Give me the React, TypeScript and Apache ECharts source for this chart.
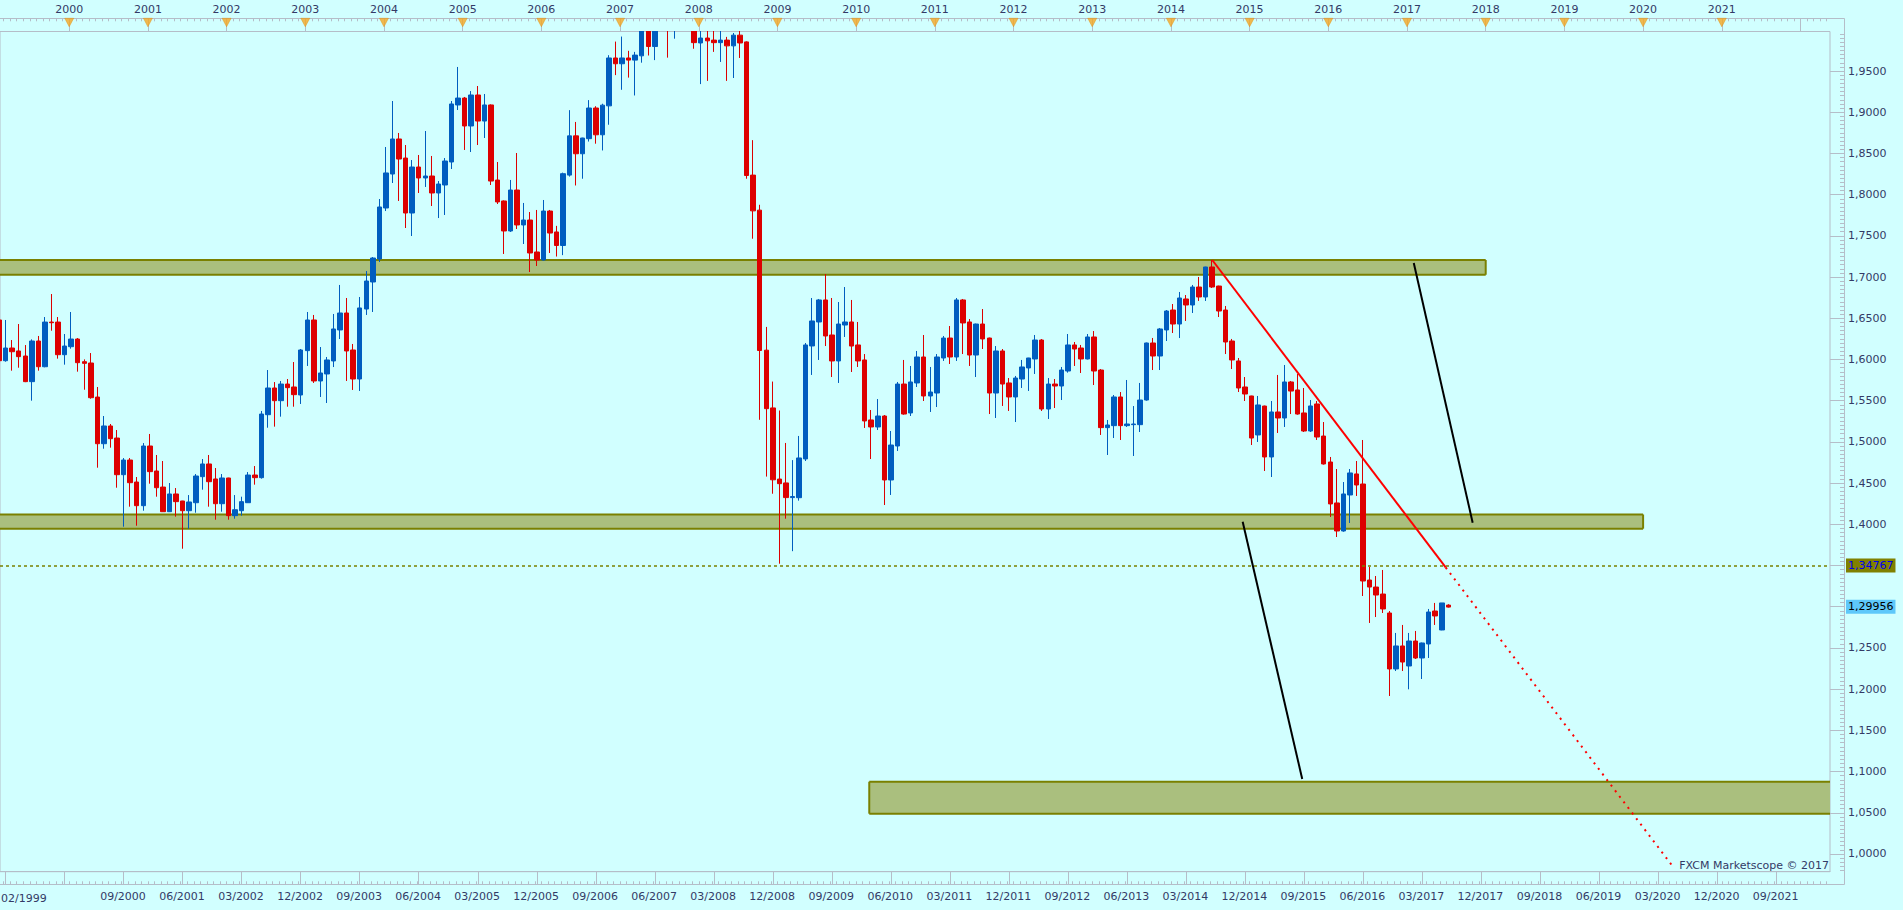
import React, { useEffect, useRef } from 'react';
import * as echarts from 'echarts';

// GBP/USD monthly candles, first candle February 1999, last July 2017
const firstMonth = '1999-02';

const opens = [
  1.6479, 1.5985, 1.6139, 1.6103, 1.6042, 1.5731, 1.6224, 1.5912, 1.6454, 1.6454, 1.6058,
  1.6155, 1.6248, 1.5973, 1.5957, 1.5544, 1.4978, 1.5193, 1.5047, 1.4602, 1.4780, 1.4513, 1.4226,
  1.4950, 1.4647, 1.4452, 1.4153, 1.4368, 1.4283, 1.4165, 1.4262, 1.4578, 1.4732, 1.4550, 1.4250,
  1.4562, 1.4105, 1.4165, 1.4262, 1.4598, 1.4566, 1.5330, 1.5654, 1.5500, 1.5702, 1.5666, 1.5569,
  1.6107, 1.6479, 1.5739, 1.5824, 1.5982, 1.6358, 1.6564, 1.6115, 1.5763, 1.6612, 1.6940, 1.7219,
  1.7838, 1.8250, 1.8675, 1.8444, 1.7777, 1.8335, 1.8202, 1.8226, 1.8020, 1.8117, 1.8396, 1.9088,
  1.9172, 1.8833, 1.9209, 1.8893, 1.9088, 1.8177, 1.7923, 1.7559, 1.8056, 1.7632, 1.7692, 1.7304,
  1.7207, 1.7801, 1.7547, 1.7383, 1.8237, 1.8713, 1.8496, 1.8679, 1.9051, 1.8726, 1.9077, 1.9658,
  1.9588, 1.9658, 1.9632, 1.9684, 1.9990, 1.9797, 2.0070, 2.0330, 2.0130, 2.0440, 2.0790, 2.0570,
  1.9840, 1.9900, 1.9875, 1.9844, 1.9875, 1.9805, 1.9935, 1.9853, 1.8237, 1.7812, 1.6113, 1.5412,
  1.4549, 1.4502, 1.4324, 1.4323, 1.4793, 1.6164, 1.6455, 1.6722, 1.6297, 1.5982, 1.6418, 1.6455,
  1.6176, 1.5994, 1.5266, 1.5181, 1.5314, 1.4538, 1.4950, 1.5702, 1.5351, 1.5715, 1.6030, 1.5557,
  1.5593, 1.6018, 1.6260, 1.6030, 1.6722, 1.6455, 1.6054, 1.6430, 1.6260, 1.5593, 1.6103, 1.5715,
  1.5545, 1.5763, 1.5897, 1.6006, 1.6236, 1.5399, 1.5702, 1.5678, 1.5860, 1.6176, 1.6139, 1.6006,
  1.6273, 1.5872, 1.5173, 1.5197, 1.5545, 1.5197, 1.5209, 1.5209, 1.5508, 1.6200, 1.6042, 1.6358,
  1.6600, 1.6430, 1.6734, 1.6661, 1.6879, 1.6758, 1.7122, 1.6891, 1.6600, 1.6224, 1.5982, 1.5666,
  1.5557, 1.5084, 1.5435, 1.4817, 1.5363, 1.5290, 1.5727, 1.5630, 1.5351, 1.5132, 1.5460, 1.5071,
  1.4756, 1.4259, 1.3919, 1.4356, 1.4611, 1.4489, 1.3324, 1.3239, 1.3154, 1.2924, 1.2245, 1.2524,
  1.2281, 1.2584, 1.2378, 1.2548, 1.2948, 1.2718, 1.3020,
];

const highs = [
  1.6520, 1.6479, 1.6236, 1.6430, 1.6175, 1.6244, 1.6285, 1.6515, 1.6794, 1.6515, 1.6309,
  1.6576, 1.6260, 1.6001, 1.6078, 1.5666, 1.5314, 1.5217, 1.5144, 1.4804, 1.4804, 1.4574, 1.4986,
  1.5096, 1.4841, 1.4768, 1.4501, 1.4440, 1.4285, 1.4355, 1.4610, 1.4792, 1.4841, 1.4683, 1.4610,
  1.4565, 1.4355, 1.4335, 1.4634, 1.4707, 1.5375, 1.5872, 1.5726, 1.5739, 1.5763, 1.5969, 1.6127,
  1.6576, 1.6540, 1.6151, 1.6030, 1.6552, 1.6904, 1.6746, 1.6188, 1.6758, 1.7073, 1.7243, 1.7947,
  1.8578, 1.9136, 1.8748, 1.8602, 1.8420, 1.8481, 1.8772, 1.8469, 1.8165, 1.8444, 1.9136, 1.9549,
  1.9185, 1.9257, 1.9318, 1.9221, 1.9095, 1.8396, 1.7930, 1.8178, 1.8505, 1.7899, 1.7789, 1.7814,
  1.7935, 1.7814, 1.7621, 1.8267, 1.9025, 1.8882, 1.8690, 1.9147, 1.9073, 1.9103, 1.9692, 1.9857,
  1.9918, 1.9745, 1.9732, 2.0133, 2.0060, 2.0100, 2.0655, 2.0460, 2.0450, 2.0890, 2.1160, 2.0650,
  2.0010, 2.0000, 2.0400, 2.0000, 1.9914, 1.9961, 2.0160, 1.9860, 1.8661, 1.7877, 1.6395, 1.5732,
  1.5381, 1.4987, 1.4779, 1.5072, 1.6200, 1.6746, 1.6734, 1.7037, 1.6746, 1.6697, 1.6879, 1.6722,
  1.6455, 1.6066, 1.5387, 1.5520, 1.5326, 1.5132, 1.5727, 1.5994, 1.5921, 1.6103, 1.6297, 1.5909,
  1.6066, 1.6285, 1.6406, 1.6746, 1.6734, 1.6491, 1.6435, 1.6612, 1.6265, 1.6163, 1.6127, 1.5775,
  1.5800, 1.5994, 1.6020, 1.6297, 1.6248, 1.5775, 1.5763, 1.5909, 1.6309, 1.6212, 1.6176, 1.6309,
  1.6345, 1.5884, 1.5266, 1.5569, 1.5605, 1.5751, 1.5435, 1.5715, 1.6205, 1.6261, 1.6382, 1.6600,
  1.6673, 1.6819, 1.6782, 1.6904, 1.7001, 1.7125, 1.7207, 1.6895, 1.6649, 1.6249, 1.6018, 1.5787,
  1.5560, 1.5557, 1.5440, 1.5496, 1.5812, 1.5933, 1.5739, 1.5824, 1.5654, 1.5508, 1.5496, 1.5241,
  1.4817, 1.4671, 1.4513, 1.4671, 1.4768, 1.5023, 1.3482, 1.3373, 1.3446, 1.2948, 1.2682, 1.2779,
  1.2682, 1.2706, 1.2565, 1.2973, 1.3046, 1.3046, 1.3030,
];

const lows = [
  1.5970, 1.5973, 1.5864, 1.5900, 1.5725, 1.5500, 1.5864, 1.5905, 1.6349, 1.6010, 1.5937,
  1.6131, 1.5852, 1.5633, 1.5524, 1.4687, 1.4917, 1.4930, 1.4444, 1.3971, 1.4214, 1.3983, 1.4165,
  1.4493, 1.4335, 1.4150, 1.4150, 1.4093, 1.3704, 1.3947, 1.4141, 1.4420, 1.4214, 1.4056, 1.4153,
  1.4056, 1.4068, 1.4105, 1.4260, 1.4481, 1.4554, 1.5172, 1.5185, 1.5306, 1.5427, 1.5427, 1.5460,
  1.5921, 1.5715, 1.5545, 1.5472, 1.5908, 1.6248, 1.5739, 1.5630, 1.5618, 1.6540, 1.6576, 1.7183,
  1.7801, 1.8141, 1.7923, 1.7595, 1.7498, 1.8020, 1.8093, 1.7862, 1.7716, 1.7753, 1.8311, 1.9027,
  1.8542, 1.8517, 1.8602, 1.8687, 1.8117, 1.7886, 1.7280, 1.7547, 1.7583, 1.7401, 1.7061, 1.7134,
  1.7200, 1.7292, 1.7249, 1.7266, 1.8219, 1.8111, 1.8193, 1.8644, 1.8618, 1.8536, 1.8848, 1.9450,
  1.9272, 1.9420, 1.9203, 1.9601, 1.9688, 1.9632, 2.0040, 1.9662, 1.9892, 2.0180, 2.0350, 1.9770,
  1.9341, 1.9380, 1.9732, 1.9610, 1.9380, 1.9415, 1.9658, 1.8193, 1.7465, 1.5268, 1.4579, 1.4371,
  1.3522, 1.4068, 1.3674, 1.4287, 1.4768, 1.5812, 1.5994, 1.6163, 1.5787, 1.5715, 1.6273, 1.5848,
  1.5909, 1.5169, 1.4792, 1.5144, 1.4234, 1.4356, 1.4890, 1.5330, 1.5314, 1.5666, 1.5496, 1.5363,
  1.5423, 1.5982, 1.5945, 1.5982, 1.6066, 1.5921, 1.5787, 1.6127, 1.5338, 1.5290, 1.5436, 1.5375,
  1.5241, 1.5654, 1.5618, 1.5824, 1.5375, 1.5278, 1.5411, 1.5508, 1.5840, 1.5921, 1.5836, 1.6000,
  1.5690, 1.5084, 1.4841, 1.5047, 1.5023, 1.5181, 1.4829, 1.5120, 1.5500, 1.5872, 1.5872, 1.6224,
  1.6321, 1.6260, 1.6467, 1.6564, 1.6710, 1.6710, 1.6867, 1.6515, 1.6066, 1.5884, 1.5605, 1.5496,
  1.4962, 1.4999, 1.4647, 1.4574, 1.5108, 1.5181, 1.5338, 1.5330, 1.5120, 1.5120, 1.5023, 1.4725,
  1.4089, 1.3846, 1.3910, 1.4016, 1.4344, 1.3130, 1.2803, 1.2875, 1.2924, 1.1917, 1.2220, 1.2220,
  1.1998, 1.2366, 1.2123, 1.2378, 1.2779, 1.2715, 1.2990,
];

const closes = [
  1.5985, 1.6139, 1.6094, 1.6034, 1.5731, 1.6224, 1.5912, 1.6454, 1.6446, 1.6058, 1.6163,
  1.6248, 1.5961, 1.5953, 1.5536, 1.4978, 1.5193, 1.5039, 1.4602, 1.4780, 1.4505, 1.4226, 1.4950,
  1.4639, 1.4444, 1.4153, 1.4368, 1.4275, 1.4165, 1.4271, 1.4586, 1.4732, 1.4517, 1.4250, 1.4562,
  1.4105, 1.4177, 1.4275, 1.4598, 1.4566, 1.5338, 1.5654, 1.5500, 1.5702, 1.5658, 1.5573, 1.6115,
  1.6479, 1.5739, 1.5836, 1.5994, 1.6370, 1.6564, 1.6103, 1.5763, 1.6625, 1.6952, 1.7231, 1.7850,
  1.8263, 1.8675, 1.8432, 1.7777, 1.8335, 1.8202, 1.8226, 1.8020, 1.8129, 1.8408, 1.9100, 1.9172,
  1.8833, 1.9209, 1.8893, 1.9088, 1.8165, 1.7911, 1.7559, 1.8056, 1.7632, 1.7692, 1.7292, 1.7207,
  1.7801, 1.7534, 1.7383, 1.8254, 1.8713, 1.8496, 1.8687, 1.9051, 1.8726, 1.9086, 1.9658, 1.9588,
  1.9658, 1.9632, 1.9693, 1.9990, 1.9797, 2.0070, 2.0330, 2.0130, 2.0440, 2.0790, 2.0570, 1.9844,
  1.9900, 1.9866, 1.9844, 1.9875, 1.9805, 1.9935, 1.9840, 1.8232, 1.7803, 1.6109, 1.5403, 1.4540,
  1.4493, 1.4324, 1.4337, 1.4805, 1.6176, 1.6467, 1.6722, 1.6285, 1.5982, 1.6430, 1.6455, 1.6163,
  1.5982, 1.5254, 1.5181, 1.5314, 1.4538, 1.4962, 1.5702, 1.5338, 1.5727, 1.6030, 1.5557, 1.5605,
  1.6030, 1.6260, 1.6030, 1.6722, 1.6443, 1.6054, 1.6430, 1.6249, 1.5593, 1.6103, 1.5702, 1.5545,
  1.5775, 1.5909, 1.6018, 1.6236, 1.5399, 1.5702, 1.5678, 1.5872, 1.6176, 1.6127, 1.6006, 1.6273,
  1.5860, 1.5173, 1.5205, 1.5545, 1.5197, 1.5217, 1.5217, 1.5508, 1.6200, 1.6042, 1.6370, 1.6588,
  1.6430, 1.6746, 1.6661, 1.6879, 1.6758, 1.7122, 1.6879, 1.6588, 1.6212, 1.5994, 1.5654, 1.5581,
  1.5047, 1.5448, 1.4817, 1.5363, 1.5290, 1.5727, 1.5617, 1.5338, 1.5132, 1.5436, 1.5059, 1.4732,
  1.4247, 1.3919, 1.4368, 1.4623, 1.4477, 1.3312, 1.3239, 1.3142, 1.2973, 1.2245, 1.2524, 1.2329,
  1.2584, 1.2378, 1.2560, 1.2936, 1.2888, 1.3046, 1.29956,
];

// Price axis labels (1,3000 and 1,3500 are hidden behind the price boxes)
const yTickValues = [1.0, 1.05, 1.1, 1.15, 1.2, 1.25, 1.3, 1.35, 1.4, 1.45, 1.5, 1.55, 1.6, 1.65, 1.7, 1.75, 1.8, 1.85, 1.9, 1.95];
const yLabelValues = [1.0, 1.05, 1.1, 1.15, 1.2, 1.25, 1.4, 1.45, 1.5, 1.55, 1.6, 1.65, 1.7, 1.75, 1.8, 1.85, 1.9, 1.95];

const yearLabels = ['2000', '2001', '2002', '2003', '2004', '2005', '2006', '2007', '2008', '2009', '2010',
  '2011', '2012', '2013', '2014', '2015', '2016', '2017', '2018', '2019', '2020', '2021'];
const yearTicksExtra = ['2022'];

const firstDateLabel = '02/1999';
const dateLabels = ['09/2000', '06/2001', '03/2002', '12/2002', '09/2003', '06/2004', '03/2005', '12/2005',
  '09/2006', '06/2007', '03/2008', '12/2008', '09/2009', '06/2010', '03/2011', '12/2011', '09/2012',
  '06/2013', '03/2014', '12/2014', '09/2015', '06/2016', '03/2017', '12/2017', '09/2018', '06/2019',
  '03/2020', '12/2020', '09/2021'];
const dateTicksExtra = ['03/1999', '12/1999'];

// Support / resistance zones (months given as MM/YYYY)
const zoneFrom = ['01/1999', '01/1999', '03/2010'];
const zoneTo = ['01/2018', '01/2020', '12/2022'];
const zoneLow = [1.7028, 1.3947, 1.0489];
const zoneHigh = [1.7207, 1.4119, 1.0877];

// Red down trend line from the July 2014 high (x in months since Jan 2000)
const trendMonths = [174.3, 209.9, 244.4];
const trendValues = [1.7207, 1.34767, 0.9862];

// Black projection lines
const arrowMonths = [[205.03, 214.01], [178.94, 188.02]];
const arrowValues = [[1.7171, 1.4020], [1.4031, 1.0910]];

const levelPrice = 1.34767;
const lastPrice = 1.29956;
const watermark = 'FXCM Marketscope © 2017';

// ---------- helpers / layout ----------
const X_MIN = -10.552;
const X_MAX = 268.5;
const Y_MIN = 0.97851;
const Y_MAX = 1.99793;
const GRID_TOP = 31.5;
const GRID_BOTTOM = 38.3;
const GRID_RIGHT = 73;
const CANDLE_SHIFT = 0.3;

const BG = '#d1ffff';
const BLUE = '#005dbf';
const RED = '#dd0000';
const GRAY = '#b5bdc8';
const LABEL = '#333a66';
const FONT = 'DejaVu Sans';

const monthIndex = (s: string) => {
  const [mm, yyyy] = s.split('/').map(Number);
  return (yyyy - 2000) * 12 + (mm - 1);
};
const fmtPrice = (v: number) => v.toFixed(4).replace('.', ',');
const fmtQuote = (v: number) => v.toFixed(5).replace('.', ',');

function buildOption() {
  const [fy, fm] = firstMonth.split('-').map(Number);
  const firstT = (fy - 2000) * 12 + (fm - 1);
  const candles = opens.map((o, i) => [firstT + i + CANDLE_SHIFT, o, closes[i], lows[i], highs[i]]);

  const monthTicks: number[] = [];
  for (let m = Math.ceil(X_MIN); m <= Math.floor(X_MAX); m++) monthTicks.push(m);
  const minorY: number[] = [];
  for (let k = 196; k <= 399; k++) minorY.push(Math.round(k * 5) / 1000);

  const yearT = yearLabels.map((y) => (Number(y) - 2000) * 12);
  const yearTickT = yearLabels.concat(yearTicksExtra).map((y) => (Number(y) - 2000) * 12);

  const dateLabelT = dateLabels.map((d) => monthIndex(d) + 0.2);
  const dateLabelMap: Record<string, string> = {};
  dateLabels.forEach((d, i) => { dateLabelMap[dateLabelT[i].toFixed(2)] = d; });
  const dateTickT = dateTicksExtra.concat(dateLabels).map((d) => monthIndex(d) + CANDLE_SHIFT);

  const zones = zoneFrom.map((f, i) => [monthIndex(zoneFrom[i]), monthIndex(zoneTo[i]), zoneLow[i], zoneHigh[i]]);

  const triV = Y_MAX + (GRID_TOP - 22.5) / (910 - GRID_TOP - GRID_BOTTOM) * (Y_MAX - Y_MIN);

  const axisFont = { color: LABEL, fontSize: 11, fontFamily: FONT };

  return {
    animation: false,
    backgroundColor: BG,
    textStyle: { fontFamily: FONT },
    grid: {
      left: 0, right: GRID_RIGHT, top: GRID_TOP, bottom: GRID_BOTTOM,
      show: true, borderColor: GRAY, borderWidth: 1, backgroundColor: 'transparent',
    },
    xAxis: [
      {
        type: 'value', min: X_MIN, max: X_MAX, position: 'bottom', z: 20,
        axisLine: { show: true, onZero: false, lineStyle: { color: GRAY } },
        axisTick: { show: true, customValues: dateTickT, length: 12.6, lineStyle: { color: GRAY } },
        axisLabel: { show: false }, splitLine: { show: false },
      },
      {
        type: 'value', min: X_MIN, max: X_MAX, position: 'top', offset: 13.2, z: 20,
        axisLine: { show: true, onZero: false, lineStyle: { color: GRAY } },
        axisTick: { show: true, inside: true, customValues: monthTicks, length: 3, lineStyle: { color: GRAY } },
        axisLabel: { show: false }, splitLine: { show: false },
      },
      {
        type: 'value', min: X_MIN, max: X_MAX, position: 'top', offset: 13.2, z: 20,
        axisLine: { show: false, onZero: false },
        axisTick: { show: true, inside: true, customValues: yearTickT, length: 13.2, lineStyle: { color: GRAY } },
        axisLabel: {
          show: true, customValues: yearT, margin: 3, ...axisFont,
          formatter: (v: number) => String(2000 + Math.round(v / 12)),
        },
        splitLine: { show: false },
      },
      {
        type: 'value', min: X_MIN, max: X_MAX, position: 'bottom', offset: 12.6, z: 20,
        axisLine: { show: true, onZero: false, lineStyle: { color: GRAY } },
        axisTick: { show: true, inside: true, customValues: monthTicks, length: 3, lineStyle: { color: GRAY } },
        axisLabel: {
          show: true, customValues: dateLabelT, margin: 7, ...axisFont,
          formatter: (v: number) => dateLabelMap[v.toFixed(2)] || '',
        },
        splitLine: { show: false },
      },
    ],
    yAxis: [
      {
        type: 'value', min: Y_MIN, max: Y_MAX, position: 'right', offset: 14, z: 20,
        axisLine: { show: true, onZero: false, lineStyle: { color: GRAY } },
        axisTick: { show: true, inside: true, customValues: yTickValues, length: 14, lineStyle: { color: GRAY } },
        axisLabel: { show: true, customValues: yLabelValues, margin: 4, ...axisFont, formatter: fmtPrice },
        splitLine: { show: false },
      },
      {
        type: 'value', min: Y_MIN, max: Y_MAX, position: 'right', offset: 14, z: 20,
        axisLine: { show: false, onZero: false },
        axisTick: { show: true, inside: true, customValues: minorY, length: 4, lineStyle: { color: GRAY } },
        axisLabel: { show: false }, splitLine: { show: false },
      },
    ],
    series: [
      {
        type: 'custom', name: 'zones', xAxisIndex: 0, yAxisIndex: 0, z: 1, silent: true,
        data: zones, encode: { x: [0, 1], y: [2, 3] },
        renderItem: (params: any, api: any) => {
          const cs = params.coordSys;
          const a = api.coord([api.value(0), api.value(3)]);
          const b = api.coord([api.value(1), api.value(2)]);
          const left = Math.max(a[0], cs.x);
          const right = Math.min(b[0], cs.x + cs.width);
          const top = a[1];
          const bottom = b[1];
          const st = { stroke: '#7a8000', lineWidth: 2 };
          const children: any[] = [
            { type: 'rect', shape: { x: left, y: top, width: right - left, height: bottom - top }, style: { fill: '#aabf7e' } },
            { type: 'line', shape: { x1: left, y1: top, x2: right, y2: top }, style: st },
            { type: 'line', shape: { x1: left, y1: bottom, x2: right, y2: bottom }, style: st },
          ];
          if (a[0] > cs.x + 1) children.push({ type: 'line', shape: { x1: left, y1: top, x2: left, y2: bottom }, style: st });
          if (b[0] < cs.x + cs.width - 1) children.push({ type: 'line', shape: { x1: right, y1: top, x2: right, y2: bottom }, style: st });
          return { type: 'group', children };
        },
      },
      {
        type: 'candlestick', name: 'GBP/USD', xAxisIndex: 0, yAxisIndex: 0, z: 2,
        data: candles, barWidth: 5, clip: true, silent: true,
        itemStyle: { color: BLUE, color0: RED, borderColor: BLUE, borderColor0: RED, borderWidth: 1 },
        markLine: {
          silent: true, symbol: ['none', 'none'], animation: false,
          data: [
            {
              yAxis: levelPrice,
              lineStyle: { color: '#7a8000', type: [3, 3], width: 1.5 },
              label: {
                show: true, position: 'end', distance: 16, formatter: fmtQuote(levelPrice),
                backgroundColor: '#808000', color: '#0000ee', padding: [2, 2, 1, 2], fontSize: 11, fontFamily: FONT,
              },
            },
            {
              yAxis: lastPrice,
              lineStyle: { color: 'rgba(0,0,0,0)', width: 1, type: 'solid' },
              label: {
                show: true, position: 'end', distance: 16, formatter: fmtQuote(lastPrice),
                backgroundColor: '#5ec8fa', color: '#000000', padding: [2, 2, 1, 2], fontSize: 11, fontFamily: FONT,
              },
            },
          ],
        },
      },
      {
        type: 'line', name: 'trend', xAxisIndex: 0, yAxisIndex: 0, z: 4, silent: true, symbol: 'none',
        data: [[trendMonths[0], trendValues[0]], [trendMonths[1], trendValues[1]]],
        lineStyle: { color: '#ff0000', width: 2 },
      },
      {
        type: 'line', name: 'trendExt', xAxisIndex: 0, yAxisIndex: 0, z: 4, silent: true, symbol: 'none',
        data: [[trendMonths[1], trendValues[1]], [trendMonths[2], trendValues[2]]],
        lineStyle: { color: '#ff0000', width: 2, type: [2, 5] },
      },
      ...arrowMonths.map((ms, i) => ({
        type: 'line', name: 'arrow' + i, xAxisIndex: 0, yAxisIndex: 0, z: 4, silent: true, symbol: 'none',
        data: [[ms[0], arrowValues[i][0]], [ms[1], arrowValues[i][1]]],
        lineStyle: { color: '#000000', width: 2 },
      })),
      {
        type: 'scatter', name: 'years', xAxisIndex: 0, yAxisIndex: 0, z: 30, silent: true, clip: false,
        symbol: 'triangle', symbolRotate: 180, symbolSize: [9, 8.5],
        data: yearT.map((t) => [t, triV]),
        itemStyle: { color: '#f5a623', borderColor: '#e08a00', borderWidth: 0.5 },
      },
    ],
    graphic: [
      // ruler band above the plot hides candle parts beyond the top of the price scale
      { type: 'rect', silent: true, z: 10, shape: { x: 0, y: 0, width: 1903, height: 31 }, style: { fill: BG } },
      {
        type: 'text', x: 1, y: 898, z: 10, silent: true,
        style: { text: firstDateLabel, fill: LABEL, font: `11px "${FONT}"`, align: 'left', verticalAlign: 'middle', textAlign: 'left', textVerticalAlign: 'middle' },
      },
      {
        type: 'text', x: 1829, y: 865, z: 10, silent: true,
        style: { text: watermark, fill: LABEL, font: `11px "${FONT}"`, align: 'right', verticalAlign: 'middle', textAlign: 'right', textVerticalAlign: 'middle' },
      },
      { type: 'line', silent: true, z: 25, shape: { x1: 1830, y1: 18.5, x2: 1844.5, y2: 18.5 }, style: { stroke: GRAY, lineWidth: 1 } },
      { type: 'line', silent: true, z: 25, shape: { x1: 1830, y1: 884.5, x2: 1844.5, y2: 884.5 }, style: { stroke: GRAY, lineWidth: 1 } },
      { type: 'line', silent: true, z: 25, shape: { x1: 1844.5, y1: 18.5, x2: 1844.5, y2: 31.5 }, style: { stroke: GRAY, lineWidth: 1 } },
      { type: 'line', silent: true, z: 25, shape: { x1: 1844.5, y1: 871.5, x2: 1844.5, y2: 884.5 }, style: { stroke: GRAY, lineWidth: 1 } },
    ],
  };
}

export default function App() {
  const ref = useRef<HTMLDivElement>(null);
  useEffect(() => {
    if (!ref.current) return;
    const chart = echarts.init(ref.current, null, { renderer: 'svg' });
    chart.setOption(buildOption() as any);
    return () => chart.dispose();
  }, []);
  return <div ref={ref} style={{ position: 'absolute', left: 0, top: 0, width: 1903, height: 910 }} />;
}
